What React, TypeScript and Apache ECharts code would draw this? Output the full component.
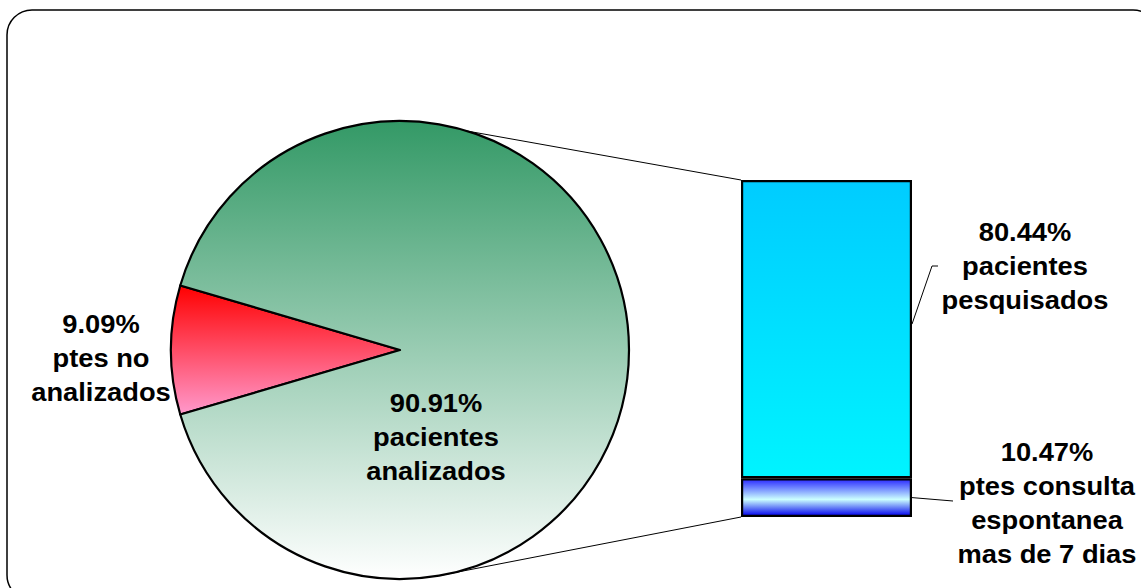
import React, { useEffect, useRef } from "react";
import * as echarts from "echarts";

// ---- data ----
const pieCategories = ["ptes no\nanalizados", "pacientes\nanalizados"];
const pieValues = [9.09, 90.91];
const barCategories = ["ptes consulta\nespontanea\nmas de 7 dias", "pacientes\npesquisados"];
const barValues = [10.47, 80.44];

// ---- layout ----
const W = 1141;
const H = 588;
const PIE_CX = 400;
const PIE_CY = 350;
const PIE_R = 229;
const BAR_LEFT = 741;
const BAR_TOP = 180;
const BAR_W = 171;
const BAR_H = 337;
const FONT = "'Liberation Sans', Arial, sans-serif";

function labelText(value: number, name: string) {
  return `${value.toFixed(2)}%\n${name}`;
}

function textEl(x: number, y: number, text: string) {
  return {
    type: "text",
    x,
    y,
    z: 10,
    scaleX: 1.05,
    style: {
      text,
      x: 0,
      y: 0,
      fill: "#000",
      font: `bold 26px ${FONT}`,
      fontSize: 26,
      fontWeight: "bold",
      fontFamily: FONT,
      lineHeight: 34,
      align: "center",
      verticalAlign: "middle",
      textAlign: "center",
      textVerticalAlign: "middle",
    },
  };
}

export default function App() {
  const ref = useRef<HTMLDivElement>(null);

  useEffect(() => {
    if (!ref.current) return;
    const chart = echarts.init(ref.current, undefined, { renderer: "svg" });

    const pieTotal = pieValues.reduce((a, b) => a + b, 0);
    const startAngle = 180 + ((pieValues[0] / pieTotal) * 360) / 2;
    const barTotal = barValues.reduce((a, b) => a + b, 0);

    const deg = Math.PI / 180;
    const topA = 73 * deg;
    const botA = -80 * deg;
    const pTop = [PIE_CX + PIE_R * Math.cos(topA), PIE_CY - PIE_R * Math.sin(topA)];
    const pBot = [PIE_CX + PIE_R * Math.cos(botA), PIE_CY - PIE_R * Math.sin(botA)];

    const splitY = BAR_TOP + BAR_H * (barValues[1] / barTotal);

    chart.setOption({
      animation: false,
      backgroundColor: "#fff",
      tooltip: { show: false },
      grid: { left: BAR_LEFT, top: BAR_TOP, width: BAR_W, height: BAR_H },
      xAxis: { type: "category", data: ["bar"], show: false },
      yAxis: { type: "value", min: 0, max: barTotal, show: false },
      series: [
        {
          type: "pie",
          center: [PIE_CX, PIE_CY],
          radius: PIE_R,
          startAngle,
          clockwise: true,
          silent: true,
          label: { show: false },
          labelLine: { show: false },
          itemStyle: { borderColor: "#000", borderWidth: 2.2 },
          data: [
            {
              name: pieCategories[0],
              value: pieValues[0],
              itemStyle: {
                color: new echarts.graphic.LinearGradient(0, 0, 0, 1, [
                  { offset: 0, color: "#ff0000" },
                  { offset: 1, color: "#ff99cc" },
                ]),
              },
            },
            {
              name: pieCategories[1],
              value: pieValues[1],
              itemStyle: {
                color: new echarts.graphic.LinearGradient(0, 0, 0, 1, [
                  { offset: 0, color: "#339966" },
                  { offset: 1, color: "#ffffff" },
                ]),
              },
            },
          ],
        },
        {
          type: "bar",
          stack: "b",
          barWidth: "100%",
          silent: true,
          name: barCategories[0],
          data: [barValues[0]],
          itemStyle: {
            borderColor: "#000",
            borderWidth: 2.2,
            color: new echarts.graphic.LinearGradient(0, 0, 0, 1, [
              { offset: 0, color: "#2a2aff" },
              { offset: 0.55, color: "#ccffff" },
              { offset: 1, color: "#0000ee" },
            ]),
          },
        },
        {
          type: "bar",
          stack: "b",
          barWidth: "100%",
          silent: true,
          name: barCategories[1],
          data: [barValues[1]],
          itemStyle: {
            borderColor: "#000",
            borderWidth: 2.2,
            color: new echarts.graphic.LinearGradient(0, 0, 0, 1, [
              { offset: 0, color: "#00ccff" },
              { offset: 1, color: "#00f4ff" },
            ]),
          },
        },
      ],
      graphic: [
        {
          type: "rect",
          shape: { x: 7, y: 10, width: 1151, height: 590, r: 25 },
          style: { fill: "none", stroke: "#000", lineWidth: 1.5 },
          silent: true,
          z: -1,
        },
        {
          type: "line",
          shape: { x1: pTop[0], y1: pTop[1], x2: BAR_LEFT, y2: BAR_TOP },
          style: { stroke: "#000", lineWidth: 1 },
          silent: true,
        },
        {
          type: "line",
          shape: { x1: pBot[0], y1: pBot[1], x2: BAR_LEFT, y2: BAR_TOP + BAR_H },
          style: { stroke: "#000", lineWidth: 1 },
          silent: true,
        },
        {
          type: "polyline",
          shape: {
            points: [
              [BAR_LEFT + BAR_W, (BAR_TOP + splitY) / 2 - 5],
              [932, 266],
              [938, 266],
            ],
          },
          style: { stroke: "#000", lineWidth: 1, fill: "none" },
          silent: true,
        },
        {
          type: "polyline",
          shape: {
            points: [
              [BAR_LEFT + BAR_W, (splitY + BAR_TOP + BAR_H) / 2],
              [953, 501],
            ],
          },
          style: { stroke: "#000", lineWidth: 1, fill: "none" },
          silent: true,
        },
        textEl(101, 358, labelText(pieValues[0], pieCategories[0])),
        textEl(436, 437, labelText(pieValues[1], pieCategories[1])),
        textEl(1025, 266, labelText(barValues[1], barCategories[1])),
        textEl(1047, 503, labelText(barValues[0], barCategories[0])),
      ],
    });

    return () => chart.dispose();
  }, []);

  return (
    <div
      ref={ref}
      style={{ position: "absolute", left: 0, top: 0, width: W, height: H }}
    />
  );
}
